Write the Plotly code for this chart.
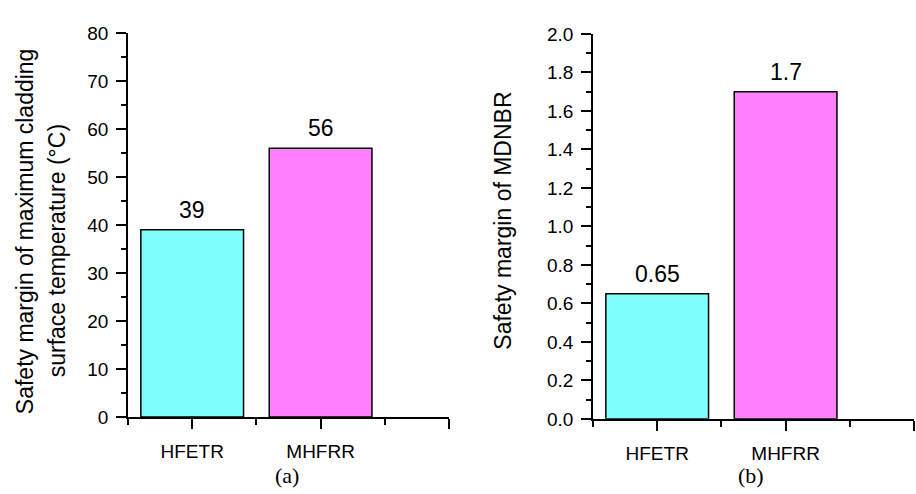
import plotly.graph_objects as go

categories = ["HFETR", "MHFRR"]
temp_margin = [39, 56]
mdnbr_margin = [0.65, 1.7]
temp_labels = ["39", "56"]
mdnbr_labels = ["0.65", "1.7"]
bar_colors = ["#80FFFF", "#FF80FF"]
xpos = [i + 1 for i in range(len(categories))]
xtickvals = [1, 2, 3]
xticktext = categories + [""]

W, H = 916, 494
FONT = "Arial, Liberation Sans, sans-serif"

fig = go.Figure()
fig.add_trace(go.Bar(x=xpos, y=temp_margin, width=0.8, marker=dict(color=bar_colors, line=dict(color="black", width=1.5)),
                     xaxis="x", yaxis="y", showlegend=False))
fig.add_trace(go.Bar(x=xpos, y=mdnbr_margin, width=0.8, marker=dict(color=bar_colors, line=dict(color="black", width=1.5)),
                     xaxis="x2", yaxis="y2", showlegend=False))

for xs, ys, labs, xr, yr in [(xpos, temp_margin, temp_labels, "x", "y"), (xpos, mdnbr_margin, mdnbr_labels, "x2", "y2")]:
    for xv, yv, lab in zip(xs, ys, labs):
        fig.add_annotation(x=xv, y=yv, xref=xr, yref=yr, text=lab, showarrow=False, xanchor="center", yanchor="bottom",
                           yshift=5, font=dict(family=FONT, size=23, color="black"))

def xax(domain, anchor):
    return dict(domain=domain, anchor=anchor, range=[0.5, 3.0], tickmode="array", tickvals=xtickvals, ticktext=xticktext,
                ticks="outside", ticklen=10, tickwidth=1.5, tickcolor="black", showline=True, linecolor="black", linewidth=1.5,
                showgrid=False, zeroline=False, tickfont=dict(family=FONT, size=19, color="black"), ticklabelstandoff=7,
                minor=dict(tickmode="array", tickvals=[0.5, 1.5, 2.5], ticks="outside", ticklen=6, tickwidth=1.5, tickcolor="black"))

def yax(domain, anchor, rng, dtick, mdtick, fmt):
    return dict(domain=domain, anchor=anchor, range=rng, dtick=dtick, tick0=0, tickformat=fmt,
                ticks="outside", ticklen=10, tickwidth=1.5, tickcolor="black", showline=True, linecolor="black", linewidth=1.5,
                showgrid=False, zeroline=False, tickfont=dict(family=FONT, size=19, color="black"), ticklabelstandoff=4,
                minor=dict(dtick=mdtick, tick0=0, ticks="outside", ticklen=5, tickwidth=1.5, tickcolor="black"))

fig.update_layout(
    width=W, height=H, margin=dict(l=0, r=0, t=0, b=0),
    paper_bgcolor="white", plot_bgcolor="white",
    xaxis=xax([128 / W, 449 / W], "y"),
    yaxis=yax([(H - 425) / H, (H - 24) / H], "x", [0, 80], 10, 5, "d"),
    xaxis2=xax([593 / W, 914 / W], "y2"),
    yaxis2=yax([(H - 427) / H, (H - 25) / H], "x2", [0, 2.0], 0.2, 0.1, ".1f"),
    bargap=0.2,
)

ann = [
    dict(text="Safety margin of maximum cladding", x=25 / W, y=1 - 231 / H),
    dict(text="surface temperature (°C)", x=57 / W, y=1 - 252 / H),
    dict(text="Safety margin of MDNBR", x=503 / W, y=1 - 220 / H),
]
for a in ann:
    fig.add_annotation(xref="paper", yref="paper", xanchor="center", yanchor="middle", textangle=-90, showarrow=False,
                       font=dict(family=FONT, size=23, color="black"), **a)
for t, xc in [("(a)", 287), ("(b)", 751)]:
    fig.add_annotation(text=t, xref="paper", yref="paper", x=xc / W, y=1 - 486 / H, xanchor="center", yanchor="middle",
                       showarrow=False, font=dict(family="Liberation Serif, Times New Roman, serif", size=22, color="black"))

fig.write_html("out.html")
